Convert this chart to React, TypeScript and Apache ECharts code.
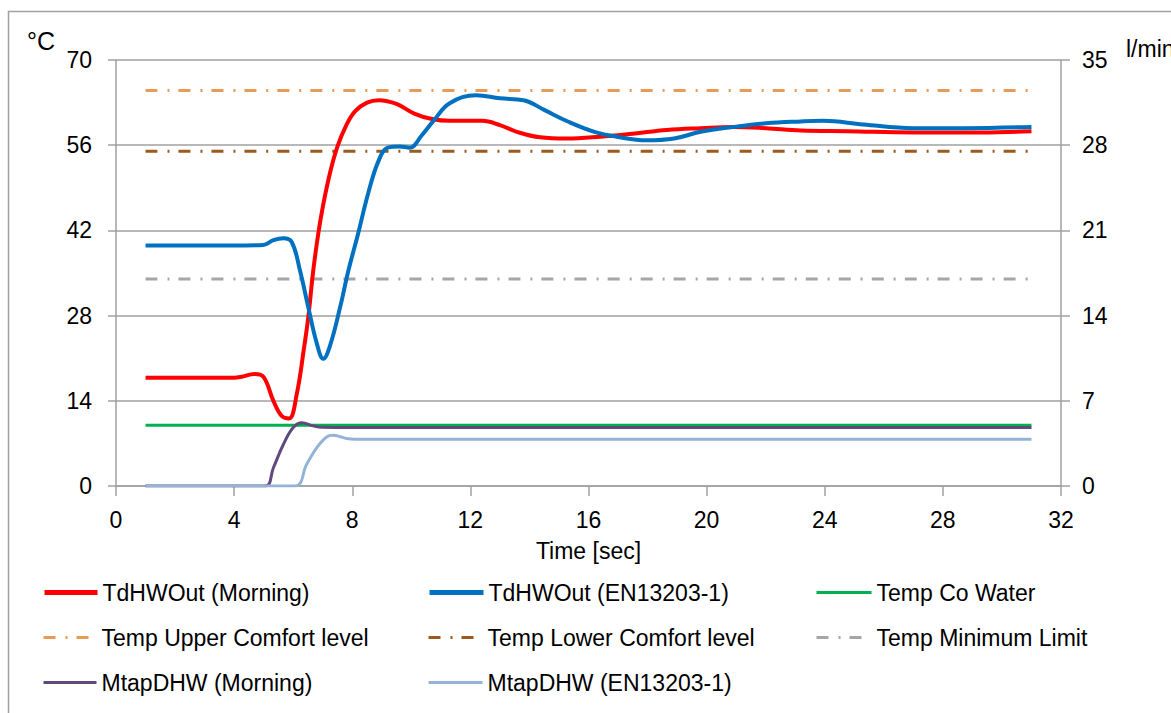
import React, { useEffect, useRef } from "react";
import * as echarts from "echarts";

// ---- data (time in seconds) ----
const tMorning = [1, 2, 3, 4, 4.2, 4.7, 5.0, 5.33, 5.61, 5.86, 6.12, 6.37, 6.51, 6.68, 6.85, 7.0, 7.25, 7.5, 7.8, 8.1, 8.5, 8.9, 9.5, 10.1, 10.7, 11.3, 12.4, 13.0, 13.57, 14.36, 15.26, 16.4, 17.5, 18.65, 19.8, 20.9, 22, 23.2, 24.75, 27, 29.3, 31];
const tdhwMorning = [17.8, 17.8, 17.8, 17.8, 17.9, 18.4, 17.9, 14.0, 11.5, 11.1, 15.1, 22.8, 27.7, 35.4, 41.5, 45.8, 51.5, 55.8, 59.3, 61.6, 63.0, 63.4, 62.8, 61.2, 60.3, 60.0, 60, 59.3, 58.2, 57.3, 57.1, 57.4, 57.9, 58.5, 58.8, 59, 58.8, 58.4, 58.3, 58.1, 58.1, 58.3];

const tEN = [1, 2, 3, 4, 4.98, 5.33, 5.67, 5.95, 6.23, 6.51, 6.79, 7.02, 7.25, 7.59, 7.87, 8.2, 8.54, 8.88, 9.2, 9.6, 9.95, 10.35, 10.75, 11.3, 12.2, 13.0, 13.8, 14.5, 15.3, 16.2, 16.95, 17.97, 18.9, 19.8, 20.9, 22, 23.2, 23.95, 25.3, 27, 28.7, 31];
const tdhwEN = [39.5, 39.5, 39.5, 39.5, 39.6, 40.4, 40.7, 40.1, 35.4, 29.4, 23.6, 20.9, 23.1, 29.4, 35.4, 41.5, 48.1, 53.3, 55.6, 55.8, 55.6, 57.6, 60.0, 62.9, 64.2, 63.7, 63.4, 61.8, 59.9, 58.2, 57.4, 56.8, 57.1, 58.2, 59, 59.6, 59.9, 60, 59.4, 58.8, 58.8, 59.0];

const tFlat = [1, 31];
const tempCoWater = [10, 10];
const tempUpperComfort = [65, 65];
const tempLowerComfort = [55, 55];
const tempMinimumLimit = [34, 34];

const tMtapMorning = [1, 3, 5.05, 5.33, 5.67, 6.0, 6.29, 6.68, 6.97, 8, 12, 20, 31];
const mtapMorning = [0, 0, 0, 1.5, 3.43, 4.8, 5.2, 4.94, 4.82, 4.8, 4.8, 4.8, 4.8];

const tMtapEN = [1, 3, 6.06, 6.46, 6.8, 7.13, 7.36, 7.81, 8.1, 10, 20, 31];
const mtapEN = [0, 0, 0, 1.8, 3.15, 4.03, 4.17, 3.9, 3.85, 3.85, 3.85, 3.85];

const xTicks = { min: 0, max: 32, interval: 4 };
const leftTicks = { min: 0, max: 70, interval: 14 };
const rightTicks = { min: 0, max: 35, interval: 7 };

const seriesNames = [
  "TdHWOut (Morning)",
  "TdHWOut (EN13203-1)",
  "Temp Co Water",
  "Temp Upper Comfort level",
  "Temp Lower Comfort level",
  "Temp Minimum Limit",
  "MtapDHW (Morning)",
  "MtapDHW (EN13203-1)",
];

const zip = (xs: number[], ys: number[]) => xs.map((x, i) => [x, ys[i]]);

const FONT = "'Liberation Sans', Arial, sans-serif";
const FS = 23;
const DASHDOT = [12, 10, 2, 9];

export default function App() {
  const ref = useRef<HTMLDivElement>(null);
  useEffect(() => {
    if (!ref.current) return;
    const chart = echarts.init(ref.current, null, { renderer: "svg" });

    const line = (name: string, data: number[][], color: string, width: number, opts: any = {}) => ({
      name,
      type: "line",
      data,
      symbol: "none",
      smooth: 0.4,
      lineStyle: { color, width, type: opts.dash || "solid", cap: "butt" },
      itemStyle: { color },
      yAxisIndex: opts.yAxisIndex || 0,
      z: opts.z || 2,
    });

    // [left, top, iconWidth, iconLineWidth]
    const legendPos = [
      [42, 581, 53, 5], [427, 581, 54, 5], [815, 581, 55, 3],
      [42, 626, 53, 3], [427, 626, 54, 3], [815, 626, 55, 3],
      [42, 671, 53, 3], [427, 671, 54, 3],
    ];

    const option: any = {
      animation: false,
      backgroundColor: "#ffffff",
      textStyle: { fontFamily: FONT },
      grid: { left: 116, right: 110, top: 60, bottom: 227, containLabel: false },
      xAxis: {
        type: "value",
        ...xTicks,
        name: "Time [sec]",
        nameLocation: "middle",
        nameGap: 53,
        nameTextStyle: { fontSize: FS, color: "#000", fontFamily: FONT },
        axisLine: { show: true, lineStyle: { color: "#a0a0a0", width: 1.5 } },
        axisTick: { show: true, length: 10, lineStyle: { color: "#a0a0a0", width: 1.5 } },
        axisLabel: { fontSize: FS, color: "#000", margin: 22, fontFamily: FONT },
        splitLine: { show: false },
      },
      yAxis: [
        {
          type: "value",
          ...leftTicks,
          position: "left",
          axisLine: { show: true, lineStyle: { color: "#a0a0a0", width: 1.5 } },
          axisTick: { show: true, length: 8, lineStyle: { color: "#a0a0a0", width: 1.5 } },
          axisLabel: { fontSize: FS, color: "#000", margin: 24, fontFamily: FONT },
          splitLine: { show: true, lineStyle: { color: "#a0a0a0", width: 1.5 } },
        },
        {
          type: "value",
          ...rightTicks,
          position: "right",
          axisLine: { show: true, lineStyle: { color: "#a0a0a0", width: 1.5 } },
          axisTick: { show: true, length: 9, lineStyle: { color: "#a0a0a0", width: 1.5 } },
          axisLabel: { fontSize: FS, color: "#000", margin: 21, fontFamily: FONT },
          splitLine: { show: false },
        },
      ],
      legend: seriesNames.map((n, i) => ({
        data: [n],
        left: legendPos[i][0],
        top: legendPos[i][1],
        itemWidth: legendPos[i][2],
        itemHeight: 14,
        itemGap: 0,
        padding: 0,
        selectedMode: false,
        itemStyle: { opacity: 0 },
        lineStyle: { width: legendPos[i][3] },
        textStyle: { fontSize: FS, color: "#000", fontFamily: FONT },
      })),
      graphic: [
        {
          type: "rect",
          shape: { x: 8.5, y: 11.5, width: 1300, height: 900 },
          style: { fill: "none", stroke: "#a0a0a0", lineWidth: 1.5 },
          silent: true,
        },
        {
          type: "text",
          left: 27,
          top: 28,
          style: { text: "°C", fontSize: 25, fill: "#000", fontFamily: FONT },
        },
        {
          type: "text",
          left: 1126,
          top: 37,
          style: { text: "l/min", fontSize: FS, fill: "#000", fontFamily: FONT },
        },
      ],
      series: [
        line(seriesNames[0], zip(tMorning, tdhwMorning), "#ff0000", 4, { z: 4 }),
        line(seriesNames[1], zip(tEN, tdhwEN), "#0070c0", 4, { z: 5 }),
        line(seriesNames[2], zip(tFlat, tempCoWater), "#00b050", 3),
        line(seriesNames[3], zip(tFlat, tempUpperComfort), "#e89a58", 3, { dash: DASHDOT }),
        line(seriesNames[4], zip(tFlat, tempLowerComfort), "#9c5a1c", 3, { dash: DASHDOT }),
        line(seriesNames[5], zip(tFlat, tempMinimumLimit), "#a6a6a6", 3, { dash: DASHDOT }),
        line(seriesNames[6], zip(tMtapMorning, mtapMorning), "#604a7b", 3, { yAxisIndex: 1, z: 3 }),
        line(seriesNames[7], zip(tMtapEN, mtapEN), "#95b3d7", 3, { yAxisIndex: 1, z: 3 }),
      ],
    };
    chart.setOption(option);
    return () => chart.dispose();
  }, []);

  return (
    <div
      ref={ref}
      style={{ position: "fixed", left: 0, top: 0, width: 1171, height: 713, background: "#fff" }}
    />
  );
}
